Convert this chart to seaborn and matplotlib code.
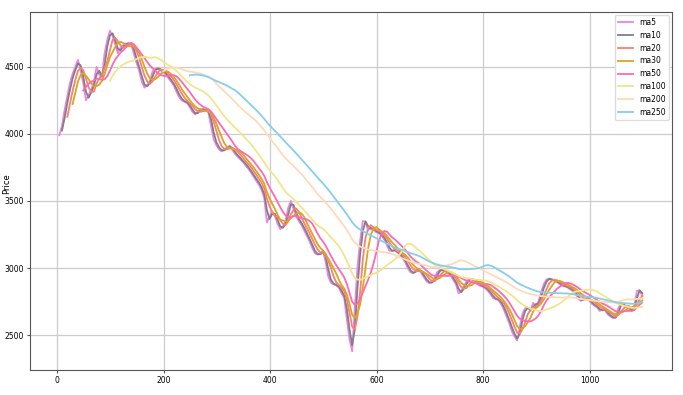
import numpy as np
import pandas as pd
import seaborn as sns
import matplotlib
matplotlib.use("Agg")
import matplotlib.pyplot as plt

# weekly (5 trading day) average close, days 0..1099
week_close = [
    3990, 4060, 4180, 4280, 4380, 4450, 4500, 4552, 4470, 4380,
    4250, 4290, 4330, 4390, 4500, 4440, 4420, 4600, 4700, 4770,
    4730, 4665, 4602, 4645, 4660, 4675, 4675, 4664, 4600, 4530,
    4470, 4390, 4345, 4365, 4390, 4465, 4485, 4490, 4475, 4460,
    4445, 4415, 4390, 4360, 4315, 4275, 4250, 4240, 4230, 4200,
    4165, 4145, 4165, 4185, 4183, 4175, 4160, 4060, 3960, 3915,
    3885, 3870, 3885, 3900, 3911, 3880, 3852, 3830, 3810, 3790,
    3765, 3740, 3712, 3680, 3650, 3620, 3582, 3520, 3340, 3390,
    3420, 3390, 3330, 3290, 3310, 3350, 3450, 3500, 3440, 3385,
    3350, 3320, 3280, 3240, 3200, 3150, 3110, 3100, 3105, 3130,
    3050, 2940, 2890, 2880, 2870, 2855, 2810, 2780, 2620, 2470,
    2380, 2700, 3000, 3200, 3350, 3345, 3280, 3305, 3285, 3268,
    3260, 3245, 3215, 3175, 3130, 3128, 3135, 3115, 3098, 3070,
    3040, 2995, 2968, 2961, 2985, 2995, 2960, 2930, 2900, 2888,
    2895, 2925, 2970, 2986, 2986, 2975, 2960, 2945, 2910, 2880,
    2810, 2830, 2865, 2900, 2922, 2915, 2905, 2882, 2868, 2862,
    2850, 2830, 2805, 2775, 2768, 2762, 2730, 2690, 2640, 2590,
    2530, 2490, 2460, 2563, 2660, 2700, 2705, 2680, 2740, 2720,
    2750, 2820, 2880, 2915, 2922, 2911, 2905, 2895, 2880, 2868,
    2863, 2855, 2840, 2828, 2810, 2770, 2755, 2772, 2768, 2760,
    2735, 2720, 2708, 2680, 2690, 2685, 2655, 2640, 2627, 2632,
    2700, 2740, 2722, 2705, 2700, 2680, 2720, 2830, 2835, 2790,
]

ma_names = ["ma5", "ma10", "ma20", "ma30", "ma50", "ma100", "ma200", "ma250"]
ma_days = [5, 10, 20, 30, 50, 100, 200, 250]
ma_colors = ["violet", "gray", "salmon", "goldenrod", "hotpink",
             "khaki", "peachpuff", "skyblue"]

df = pd.DataFrame({"close": week_close})
df["day"] = np.arange(len(df)) * 5 + 4
for name, n in zip(ma_names, ma_days):
    df[name] = df["close"].rolling(n // 5).mean()

plt.rcParams["font.family"] = ["DejaVu Sans"]
fig, ax = plt.subplots(figsize=(6.83, 3.95), dpi=100)
fig.subplots_adjust(left=0.044, right=0.984, top=0.970, bottom=0.063)

for name, c in zip(ma_names, ma_colors):
    sns.lineplot(data=df, x="day", y=name, color=c, linewidth=1.3, label=name, ax=ax)

ax.grid(True, color="#cccccc", linewidth=0.9)
ax.set_axisbelow(True)
for s in ax.spines.values():
    s.set_color("#555555")
ax.tick_params(labelsize=5.5, length=2.5, pad=2, color="#555555")
ax.set_xlabel("")
ax.set_ylabel("Price", fontsize=6)
ax.yaxis.set_label_coords(-0.03, 0.52)
ax.set_yticks([2500, 3000, 3500, 4000, 4500])
ax.set_xticks([0, 200, 400, 600, 800, 1000])
ax.set_ylim(2239, 4910)
ax.set_xlim(-51, 1155)
ax.legend(loc="upper right", fontsize=5.5, framealpha=1, edgecolor="#dddddd",
          borderaxespad=0.4)

fig.savefig("out.png", dpi=100)
